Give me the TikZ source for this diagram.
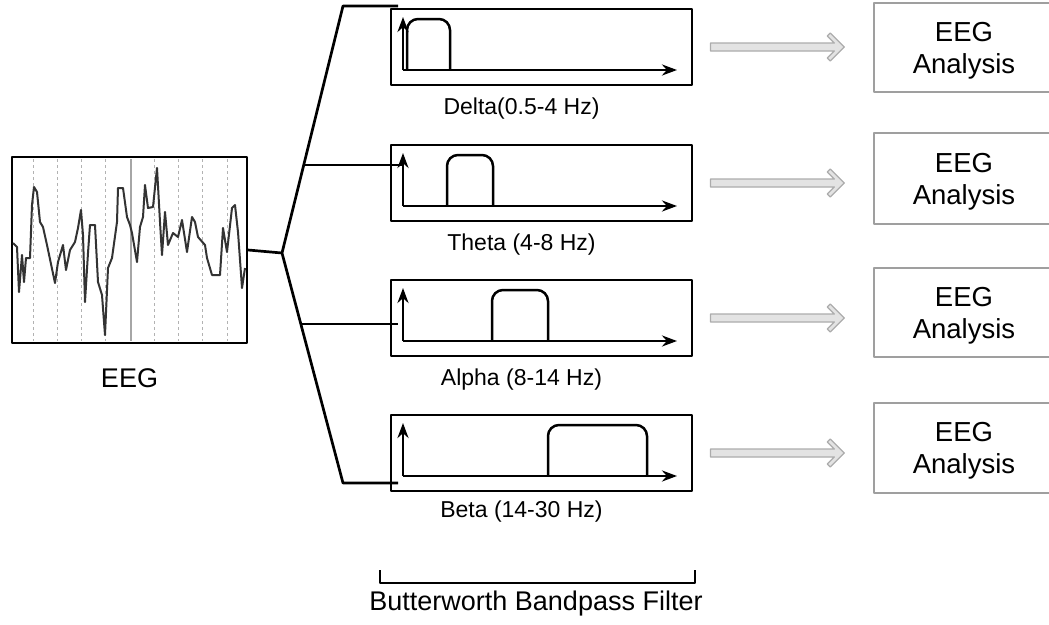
\documentclass[tikz,border=0pt]{standalone}
\usepackage{fontspec}
\setmainfont{Liberation Sans}
\usepackage{tikz}
\usetikzlibrary{positioning,arrows.meta}

\begin{document}
\begin{tikzpicture}[x=1pt, y=-1pt, line join=round,
  fbox/.style={draw, line width=2.8pt, minimum width=301pt, minimum height=76pt,
               inner sep=0pt},
  abox/.style={draw=gray!75, line width=1.4pt, minimum width=180pt, inner sep=0pt,
               align=center, text depth=0pt, font=\fontsize{27.5}{32}\selectfont},
  lbl/.style={font=\fontsize{23}{26}\selectfont, inner sep=2pt},
  wire/.style={line width=2.7pt},
  ax/.style={line width=2.6pt, -{Stealth[length=15pt, width=11pt]}},
  band/.style={line width=2.5pt, rounded corners=11pt},
  hollow/.style={draw=gray!65, fill=gray!22, line width=1.3pt,
    to path={([yshift=4pt]\tikztostart) -- ([xshift=-10pt,yshift=4pt]\tikztotarget)
      -- ([xshift=-17pt,yshift=11pt]\tikztotarget) -- ([xshift=-14pt,yshift=14pt]\tikztotarget)
      -- (\tikztotarget) -- ([xshift=-14pt,yshift=-14pt]\tikztotarget)
      -- ([xshift=-17pt,yshift=-11pt]\tikztotarget) -- ([xshift=-10pt,yshift=-4pt]\tikztotarget)
      -- ([yshift=-4pt]\tikztostart) -- cycle}},
  sig/.style={line width=2pt, black!80}]
\useasboundingbox (0,0) rectangle (1049,624);

% EEG trace
\node[draw, line width=2.2pt, minimum width=235pt, minimum height=186pt, inner sep=0pt]
  (eeg) at (129.5,250) {};
\foreach \gx in {33,57,81,105,154,178,202,227}
  \draw[gray!60, dashed, line width=0.9pt] (\gx,159) -- (\gx,341);
\draw[gray!70, line width=1.1pt] (131,159) -- (131,341);
\draw[sig] plot coordinates {(13,243) (17,247) (19,292) (22,255) (24,282) (26,258)
  (30,258) (32,205) (34,187) (37,192) (40,222) (43,227) (47,245) (55,283) (58,262)
  (63,245) (66,270) (70,250) (75,242) (78,228) (81,210) (83,235) (85,302) (88,253)
  (90,225) (95,225) (98,282) (102,295) (105,335) (108,268) (112,258) (117,222)
  (118,188) (123,188) (127,217) (130,225) (132,233) (137,262) (140,227) (143,217)
  (145,185) (148,208) (153,207) (157,168) (160,222) (162,255) (165,212) (168,245)
  (173,233) (178,237) (182,220) (187,252) (192,217) (195,222) (198,237) (205,245)
  (207,258) (212,275) (220,275) (223,228) (227,252) (232,208) (235,205) (238,232)
  (242,288) (245,268)};
\node[font=\fontsize{27}{30}\selectfont, below=21pt of eeg] (eeglbl) {EEG};

% filter bank
\foreach \nm/\yt/\ba/\bb/\yc/\txt in {delta/9/407/450/-1/{Delta(0.5-4 Hz)},
    theta/145/447/493/-1/{Theta (4-8 Hz)}, alpha/280/492/548/-1/{Alpha (8-14 Hz)},
    beta/415/548/647/2/{Beta (14-30 Hz)}} {
  \node[fbox] (\nm) at (541.5,{\yt+38}) {};
  \draw[ax] (403,{\yt+61}) -- (403,{\yt+8});
  \draw[ax] (403,{\yt+61}) -- (677,{\yt+61});
  \draw[band] (\ba,{\yt+61}) -- (\ba,{\yt+10}) -- (\bb,{\yt+10}) -- (\bb,{\yt+61});
  \node[lbl, below=8pt of \nm, xshift=-20pt, yshift=\yc pt] (\nm-lbl) {\txt};
}

% analysis boxes
\node[abox, minimum height=89pt] (ana-delta) at (964,47.5) {EEG\\Analysis};
\node[abox, minimum height=91pt] (ana-theta) at (964,178.5) {EEG\\Analysis};
\node[abox, minimum height=89pt] (ana-alpha) at (964,312.5) {EEG\\Analysis};
\node[abox, minimum height=90pt] (ana-beta) at (964,448) {EEG\\Analysis};
\foreach \nm in {delta,theta,alpha,beta} {
  \coordinate (\nm-a) at ([xshift=17pt]\nm.east);
  \coordinate (\nm-b) at ([xshift=-29pt]\nm.east -| ana-\nm.west);
  \draw[hollow] (\nm-a) to (\nm-b);
}

% branches
\coordinate (jn) at (282,253);
\coordinate (top) at (343,6);
\coordinate (bot) at (343,483);
\coordinate (topend) at (398,6);
\coordinate (botend) at (398,483);
\draw[wire] (eeg.east) -- (jn);
\draw[wire] (topend) -- (top) -- (jn) -- (bot) -- (botend);
\draw[wire] (304,165) -- (403,165);
\draw[wire] (301,324) -- (398,324);

% bracket
\coordinate (brl) at (380,570);
\coordinate (brr) at (695,570);
\draw[line width=2.4pt] (brl) -- ++(0,13) -| (brr);
\node[font=\fontsize{27}{30}\selectfont] (bpf) at (536,604) {Butterworth Bandpass Filter};
\end{tikzpicture}
\end{document}
